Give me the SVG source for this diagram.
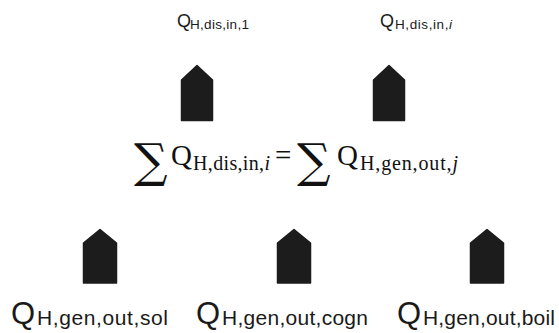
<svg xmlns="http://www.w3.org/2000/svg" width="559" height="333" viewBox="0 0 559 333">
<style>
.arrow{fill:#1c1c1c;stroke:#1c1c1c;stroke-width:1.5;stroke-linejoin:round}
.sans{font-family:"Liberation Sans",Arial,sans-serif;fill:#1a1a1a}
.serif{font-family:"Liberation Serif","DejaVu Serif",serif;fill:#111}
.tq{font-size:18px}
.ts{font-size:13.5px}
.bq{font-size:31px}
.bs{font-size:21px}
.mq{font-size:29px}
.ms{font-size:20px}
.sig{font-family:"DejaVu Serif",serif;font-size:47px;fill:#111}
</style>
<rect width="559" height="333" fill="#fff"/>
<g id="connectors">
<polygon class="arrow" points="181.5,120.5 181.5,80 197,65.5 212.5,80 212.5,120.5"/>
<polygon class="arrow" points="373.5,120.5 373.5,80 389,65.5 404.5,80 404.5,120.5"/>
<polygon class="arrow" points="83.5,283 83.5,243 100,229.5 116.5,243 116.5,283"/>
<polygon class="arrow" points="277.5,283 277.5,243 294,229.5 310.5,243 310.5,283"/>
<polygon class="arrow" points="470.5,283 470.5,243 487,229.5 503.5,243 503.5,283"/>
</g>
<g id="q-dis-in-1">
<text class="sans tq" x="177" y="27">Q</text>
<text class="sans ts" x="190" y="29" textLength="59">H,dis,in,1</text>
</g>
<g id="q-dis-in-i">
<text class="sans tq" x="380" y="27">Q</text>
<text class="sans ts" x="395" y="29" textLength="57">H,dis,in,<tspan font-style="italic">i</tspan></text>
</g>
<g id="balance">
<text class="sig" x="134" y="177">∑</text>
<text class="serif mq" x="171" y="165">Q</text>
<text class="serif ms" x="193" y="170" textLength="77">H,dis,in,<tspan font-style="italic">i</tspan></text>
<text class="serif mq" x="275" y="165">=</text>
<text class="sig" x="297" y="177">∑</text>
<text class="serif mq" x="337" y="165">Q</text>
<text class="serif ms" x="360" y="170" textLength="98">H,gen,out,<tspan font-style="italic">j</tspan></text>
</g>
<g id="q-gen-out-sol">
<text class="sans bq" x="11" y="324">Q</text>
<text class="sans bs" x="37" y="325" textLength="131">H,gen,out,sol</text>
</g>
<g id="q-gen-out-cogn">
<text class="sans bq" x="196" y="324">Q</text>
<text class="sans bs" x="222" y="325" textLength="146">H,gen,out,cogn</text>
</g>
<g id="q-gen-out-boil">
<text class="sans bq" x="397" y="324">Q</text>
<text class="sans bs" x="423" y="325" textLength="132">H,gen,out,boil</text>
</g>
</svg>
